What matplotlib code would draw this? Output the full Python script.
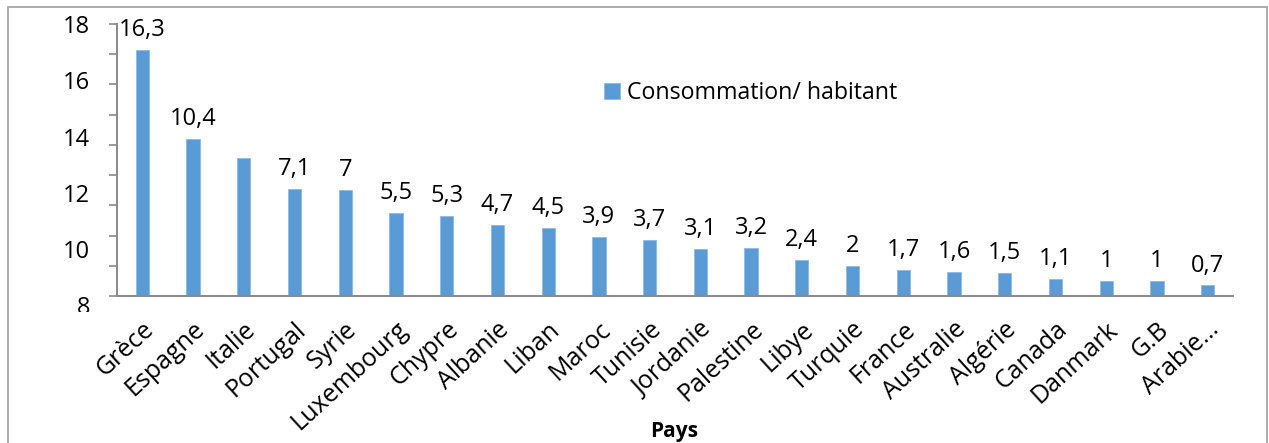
import matplotlib
matplotlib.use("Agg")
import matplotlib.pyplot as plt
from matplotlib.patches import Rectangle
from matplotlib.transforms import Bbox, TransformedBbox
import numpy as np

countries = ["Grèce", "Espagne", "Italie", "Portugal", "Syrie", "Luxembourg", "Chypre",
             "Albanie", "Liban", "Maroc", "Tunisie", "Jordanie", "Palestine", "Libye",
             "Turquie", "France", "Australie", "Algérie", "Canada", "Danmark", "G.B", "Arabie…"]
consommation = [16.3, 10.4, 9.1, 7.1, 7, 5.5, 5.3, 4.7, 4.5, 3.9, 3.7, 3.1, 3.2, 2.4,
                2, 1.7, 1.6, 1.5, 1.1, 1, 1, 0.7]
show_label = [True, True, False] + [True] * 19
ytick_text = ["18", "16", "14", "12", "10", "8"]
series_name = "Consommation/ habitant"
xlabel = "Pays"

plt.rcParams['font.family'] = ['Open Sans', 'DejaVu Sans']
W, H = 1269, 443
fig = plt.figure(figsize=(W / 100, H / 100), dpi=100)

# outer chart border
fig.patches.append(Rectangle((7.5 / W, -0.05), (1267 - 7.5) / W, 1.05 - 7.3 / H,
                             transform=fig.transFigure, fill=False,
                             edgecolor='#A6A6A6', linewidth=1.3))

ax = fig.add_axes([117 / W, 1 - 296 / H, (1233 - 117) / W, 272 / H])
x = np.arange(len(countries))
bars = ax.bar(x, consommation, width=0.26, color='#5B9BD5', edgecolor='#8FB8E3',
              linewidth=0.6, label=series_name)

ax.set_xlim(-0.5, len(countries) - 0.5)
ax.set_ylim(0, 18)
ax.set_yticks(np.arange(0, 19, 2))
ax.set_yticklabels([])
ax.tick_params(axis='y', direction='out', length=6, width=1.2, color='#898989')
ax.tick_params(axis='x', length=0, pad=15, labelsize=18)
ax.set_xticks(x)
ax.set_xticklabels(countries, rotation=42.5, ha='right', rotation_mode='anchor')
for s in ['top', 'right']:
    ax.spines[s].set_visible(False)
for s in ['left', 'bottom']:
    ax.spines[s].set_color('#898989')
    ax.spines[s].set_linewidth(1.4)

# data labels
for xi, v, show in zip(x, consommation, show_label):
    if show:
        ax.annotate(f"{v:g}".replace('.', ','), (xi, v), xytext=(0, 10),
                    textcoords='offset points', ha='center', va='baseline', fontsize=17)

# y tick labels (as rendered in the reference)
clip = TransformedBbox(Bbox.from_extents(0, 1 - 312 / H, 1, 1), fig.transFigure)
for i, t in enumerate(ytick_text):
    ypix = 27 + i * 56.3
    txt = fig.text(90 / W, 1 - ypix / H, t, ha='right', va='center', fontsize=17)
    txt.set_clip_box(clip)
    txt.set_clip_on(True)

fig.text(674 / W, 1 - 437 / H, xlabel, ha='center', va='baseline', fontsize=15,
         fontweight='bold')

ax.legend(loc='center left', bbox_to_anchor=(604 / W, 1 - 93 / H),
          bbox_transform=fig.transFigure, frameon=False, borderpad=0,
          borderaxespad=0, handlelength=0.68, handleheight=0.68,
          handletextpad=0.33, fontsize=16.7)

fig.savefig("out.png", dpi=100)
